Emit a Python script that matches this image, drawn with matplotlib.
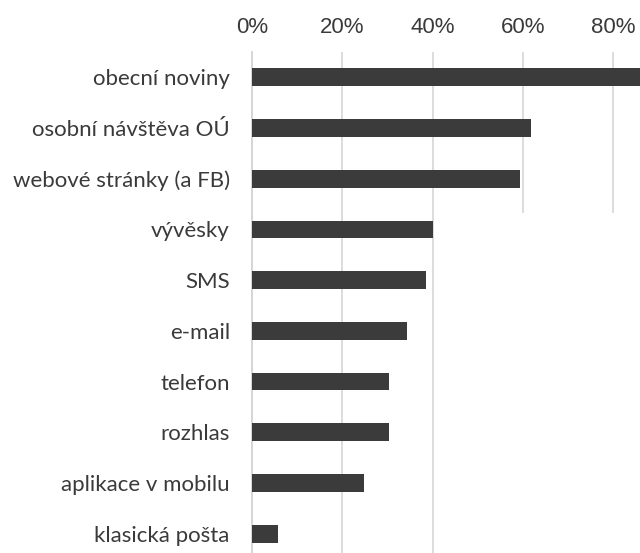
import matplotlib.pyplot as plt
from matplotlib.ticker import FuncFormatter

categories = ['obecní noviny', 'osobní návštěva OÚ', 'webové stránky (a FB)', 'vývěsky',
              'SMS', 'e-mail', 'telefon', 'rozhlas', 'aplikace v mobilu', 'klasická pošta']
values = [88.0, 61.7, 59.4, 40.1, 38.5, 34.4, 30.4, 30.4, 24.9, 5.7]
ticks = [0, 20, 40, 60, 80]

fig = plt.figure(figsize=(6.4, 5.53), dpi=100)
ax = fig.add_axes([252 / 640, -6 / 553, 388 / 640, 507 / 553])

ypos = list(range(len(categories)))
ax.barh(ypos, values, height=0.35, color='#3b3b3b', zorder=3)

ax.set_xlim(0, 85.9)
ax.set_ylim(len(categories) - 0.5, -0.5)

# gridlines (the two right ones stop below the third row in the original)
for t in ticks[1:]:
    top = 2.68 if t >= 60 else len(categories) - 0.5
    ax.vlines(t, -0.5, top, color='#d2d2d2', lw=1.1, zorder=1)

ax.xaxis.tick_top()
ax.set_xticks(ticks)
ax.xaxis.set_major_formatter(FuncFormatter(lambda v, p: f'{v:.0f}%'))
ax.tick_params(axis='x', length=0, pad=10, labelsize=16, labelcolor='#3a3a3a')
for lab in ax.get_xticklabels():
    lab.set_family('Liberation Sans')

ax.set_yticks(ypos)
ax.set_yticklabels(categories, family='Lato', fontsize=16, color='#3a3a3a')
ax.tick_params(axis='y', length=0, pad=16)

for s in ['top', 'right', 'bottom']:
    ax.spines[s].set_visible(False)
ax.spines['left'].set_color('#d2d2d2')
ax.spines['left'].set_linewidth(1.3)

fig.savefig('out.png', dpi=100)
